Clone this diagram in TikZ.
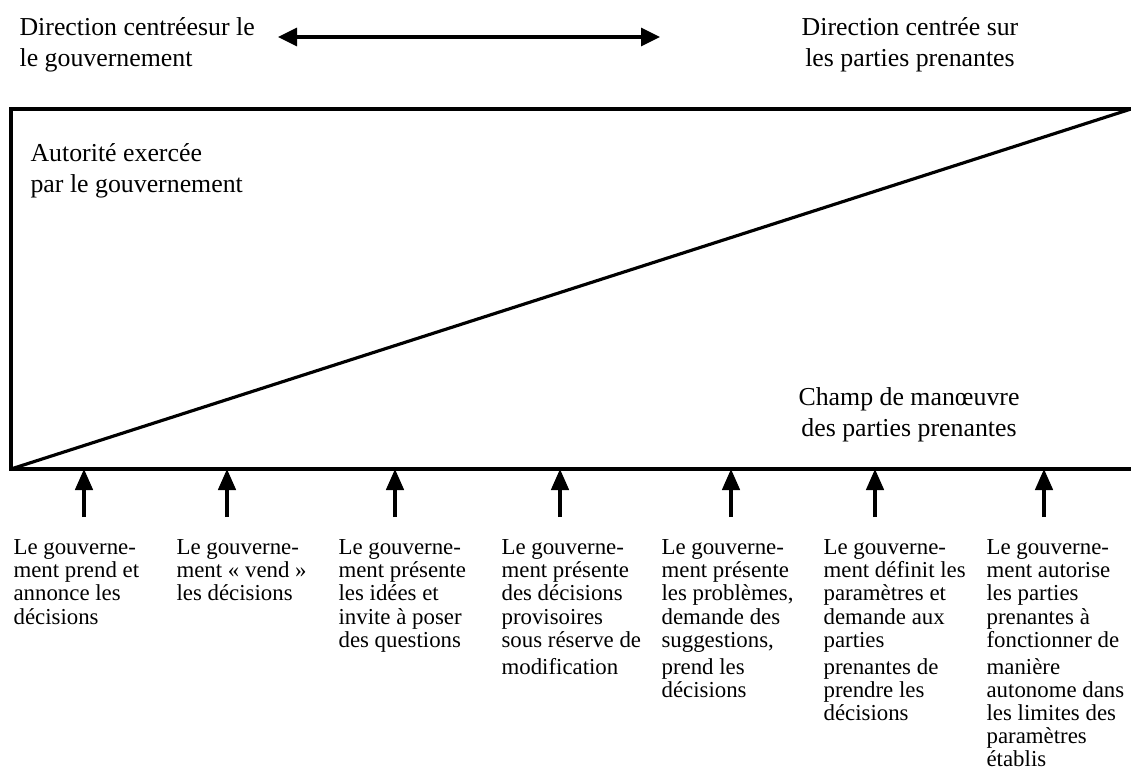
\documentclass[tikz,border=0pt]{standalone}
\usepackage{fontspec}
\setmainfont{Liberation Serif}
\usepackage{tikz}
\usetikzlibrary{arrows.meta}

\begin{document}
\begin{tikzpicture}
  [x=0.02cm,y=-0.02cm,line width=1.8pt,
   every node/.style={inner sep=0pt,font=\fontsize{14.7}{17.5}\selectfont},
   choix/.style={anchor=north west,align=left,font=\fontsize{13}{13.2}\selectfont},
   fleche/.style={-{Triangle[length=0.42cm,width=0.35cm]}}]
  \useasboundingbox (0,0) rectangle (1131,771);

  \node[anchor=north west,align=left] (d1) at (18,16) {Direction centréesur le\\le gouvernement};
  \node[anchor=north,align=center] (d2) at (910,16) {Direction centrée sur\\les parties prenantes};
  \coordinate (m1) at (278,37);
  \coordinate (m2) at (660,37);
  \draw[{Triangle[length=0.38cm,width=0.36cm]}-{Triangle[length=0.38cm,width=0.36cm]}] (m1) -- (m2);

  \coordinate (c1) at (1131,109);
  \coordinate (c2) at (11,109);
  \coordinate (c3) at (11,469);
  \coordinate (c4) at (1131,469);
  \draw (c1) -- (c2) -- (c3) -- (c4);
  \draw (c3) -- (c1);
  \node[anchor=north west,align=left] (a1) at (29,142) {Autorité exercée\\par le gouvernement};
  \node[anchor=north,align=center] (a2) at (909,386) {Champ de manœuvre\\des parties prenantes};

  \node[choix] (g1) at (12,538) {Le gouverne-\\ment prend et\\annonce les\\décisions};
  \node[choix] (g2) at (175,538) {Le gouverne-\\ment « vend »\\les décisions};
  \node[choix] (g3) at (337,538) {Le gouverne-\\ment présente\\les idées et\\invite à poser\\des questions};
  \node[choix] (g4) at (500,538) {Le gouverne-\\ment présente\\des décisions\\provisoires\\sous réserve de\\[2pt]modification};
  \node[choix] (g5) at (660,538) {Le gouverne-\\ment présente\\les problèmes,\\demande des\\suggestions,\\[2pt]prend les\\décisions};
  \node[choix] (g6) at (822,538) {Le gouverne-\\ment définit les\\paramètres et\\demande aux\\parties\\[2pt]prenantes de\\prendre les\\décisions};
  \node[choix] (g7) at (985,538) {Le gouverne-\\ment autorise\\les parties\\prenantes à\\fonctionner de\\[2pt]manière\\autonome dans\\les limites des\\paramètres\\établis};

  \coordinate (b1) at (84,517);  \coordinate (t1) at (84,469);
  \coordinate (b2) at (227,517); \coordinate (t2) at (227,469);
  \coordinate (b3) at (395,517); \coordinate (t3) at (395,469);
  \coordinate (b4) at (560,517); \coordinate (t4) at (560,469);
  \coordinate (b5) at (731,517); \coordinate (t5) at (731,469);
  \coordinate (b6) at (875,517); \coordinate (t6) at (875,469);
  \coordinate (b7) at (1044,517); \coordinate (t7) at (1044,469);

  \draw[fleche] (b1) -- (t1);
  \draw[fleche] (b2) -- (t2);
  \draw[fleche] (b3) -- (t3);
  \draw[fleche] (b4) -- (t4);
  \draw[fleche] (b5) -- (t5);
  \draw[fleche] (b6) -- (t6);
  \draw[fleche] (b7) -- (t7);
\end{tikzpicture}
\end{document}
